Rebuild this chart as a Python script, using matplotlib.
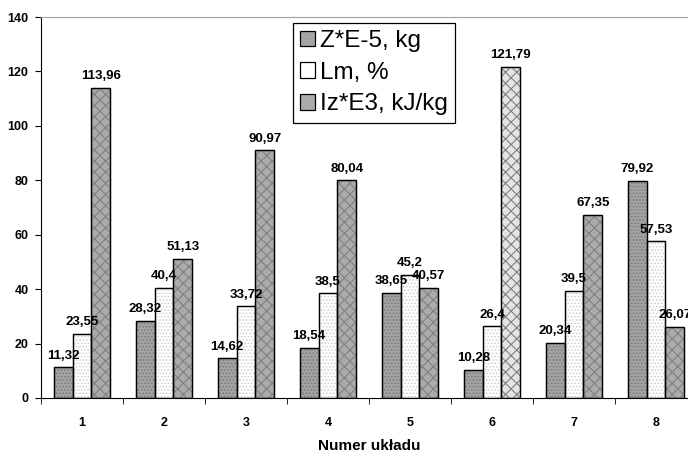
import numpy as np
import matplotlib.pyplot as plt

plt.rcParams['font.family'] = ['Liberation Sans', 'DejaVu Sans']
plt.rcParams['hatch.linewidth'] = 0.8

# dane
uklady = ['1', '2', '3', '4', '5', '6', '7', '8']
z_kg = [11.32, 28.32, 14.62, 18.54, 38.65, 10.28, 20.34, 79.92]
lm_proc = [23.55, 40.4, 33.72, 38.5, 45.2, 26.4, 39.5, 57.53]
iz_kj = [113.96, 51.13, 90.97, 80.04, 40.57, 121.79, 67.35, 26.07]
nazwy = ['Z*E-5, kg', 'Lm, %', 'Iz*E3, kJ/kg']

fig = plt.figure(figsize=(6.88, 4.55), dpi=100)
ax = fig.add_axes([41 / 688, 57 / 455, 656 / 688, 381 / 455])

x = np.arange(1, len(uklady) + 1)
w = 0.23

def fmt(v):
    return ('%g' % v).replace('.', ',')

serie = [z_kg, lm_proc, iz_kj]
twarz = ['#a4a4a4', '#ffffff', '#ababab']
kreska = ['#7a7a7a', '#cfcfcf', '#808080']
wzor = ['.....', '.....', 'xxx']

for i, vals in enumerate(serie):
    pos = x + (i - 1) * w
    fc = [twarz[i]] * len(vals)
    if i == 2:
        fc[5] = '#e4e4e4'
    ax.bar(pos, vals, w, color=fc, edgecolor='black', linewidth=0.9,
           label=nazwy[i], zorder=2)
    ax.bar(pos, vals, w, fill=False, hatch=wzor[i], edgecolor=kreska[i],
           linewidth=0, zorder=3)
    ax.bar(pos, vals, w, fill=False, edgecolor='black', linewidth=0.9, zorder=4)
    for p, v in zip(pos, vals):
        ax.annotate(fmt(v), (p, v), xytext=(0, 4), textcoords='offset points',
                    ha='center', va='bottom', fontsize=9.5, fontweight='bold',
                    zorder=5)

ax.set_xlim(0.5, 8.5)
ax.set_ylim(0, 140)
ax.set_yticks(np.arange(0, 141, 20))
ax.set_xticks(x)
ax.set_xticklabels(uklady)
ax.set_xticks(np.arange(0.5, 8.6, 1), minor=True)
ax.tick_params(axis='x', which='major', length=0, pad=14)
ax.tick_params(axis='x', which='minor', length=4, direction='out')
ax.tick_params(axis='y', length=4, direction='out', pad=5)
for lab in ax.get_xticklabels() + ax.get_yticklabels():
    lab.set_fontweight('bold')
    lab.set_fontsize(9)

ax.spines['top'].set_color('#a0a0a0')
ax.spines['right'].set_visible(False)
ax.set_xlabel('Numer układu', fontsize=11, fontweight='bold', labelpad=7)

h, l = ax.get_legend_handles_labels()
leg = ax.legend(h, l, loc='upper left', bbox_to_anchor=(252 / 656, 0.985),
                fontsize=17.5, frameon=True, fancybox=False, framealpha=1,
                edgecolor='black', handlelength=0.6, handleheight=0.6,
                handletextpad=0.2, labelspacing=0.4, borderpad=0.3,
                borderaxespad=0)
leg.get_frame().set_linewidth(0.9)

fig.savefig('out.png', dpi=100)
